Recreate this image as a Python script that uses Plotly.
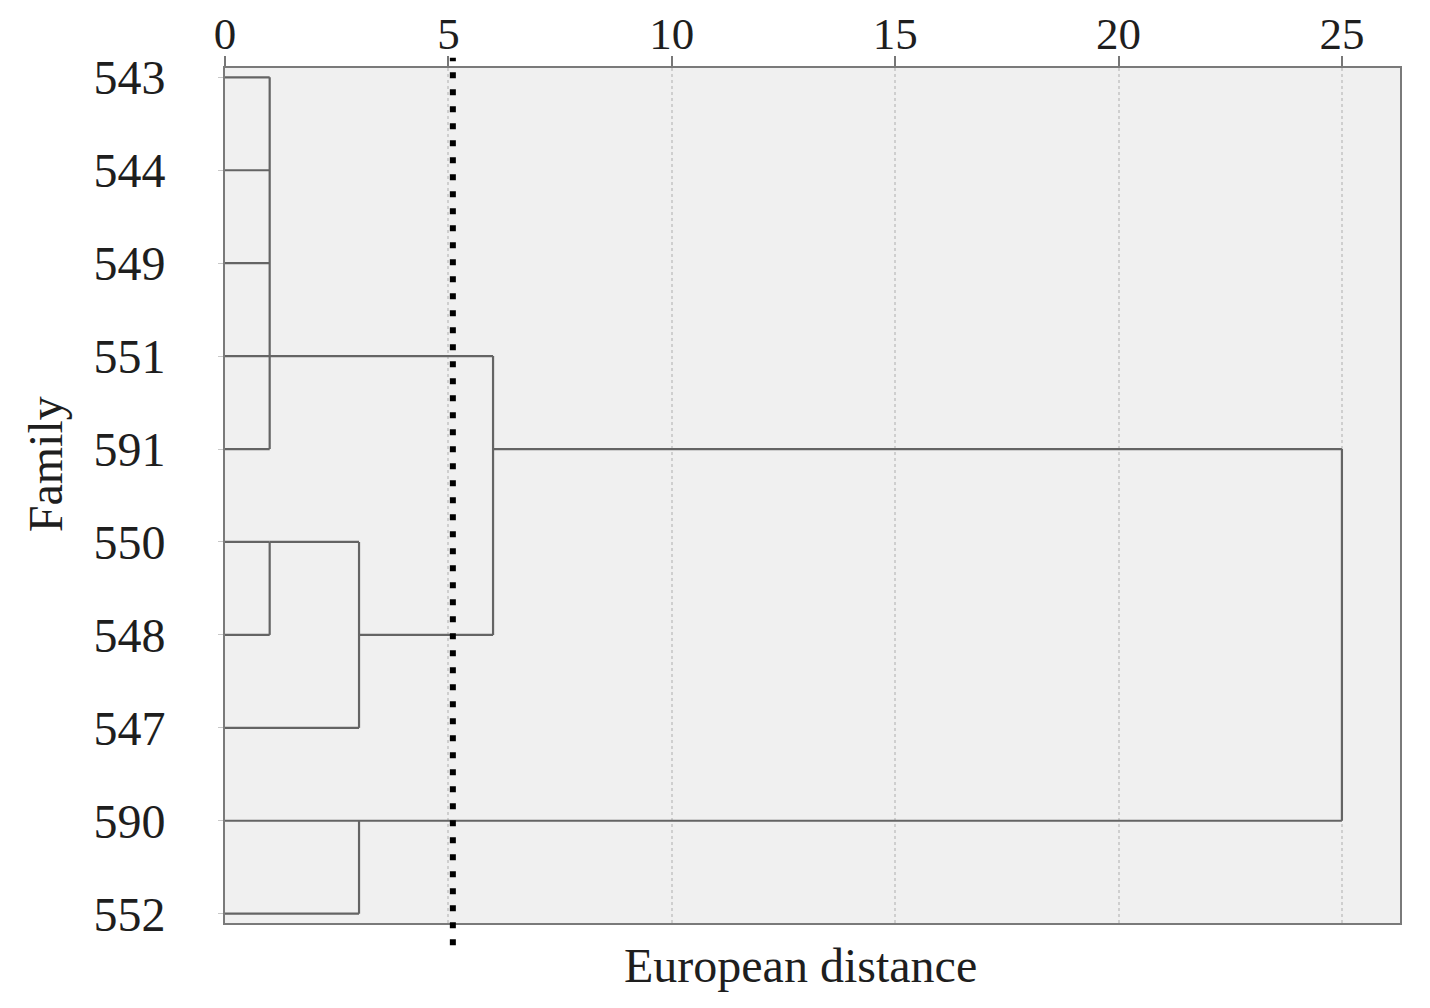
import plotly.graph_objects as go

# leaf families, top to bottom
families = ["543", "544", "549", "551", "591", "550", "548", "547", "590", "552"]

# agglomeration steps (rows are leaf positions in the list above)
merge_members = [[0, 1, 2, 3, 4], [5, 6], [5, 7], [3, 6], [8, 9], [4, 8]]
merge_heights = [1, 1, 3, 6, 3, 25]
merge_rep_row = [3, 5, 6, 4, 8, 4]

cutoff = 5.1
x_ticks = [0, 5, 10, 15, 20, 25]

FONT = "Liberation Serif, Times New Roman, serif"
LINE = "#646464"
TEXT = "#1e1e1e"

# build the dendrogram path
xs, ys = [], []
cur = [0.0] * len(families)
for members, h, rep in zip(merge_members, merge_heights, merge_rep_row):
    for r in members:
        xs += [cur[r], h, None]
        ys += [r, r, None]
    xs += [h, h, None]
    ys += [min(members), max(members), None]
    cur[rep] = h

fig = go.Figure()
fig.add_trace(go.Scatter(
    x=xs, y=ys, mode="lines",
    line=dict(color=LINE, width=2.2),
    hoverinfo="skip", showlegend=False,
))

fig.add_shape(
    type="line", xref="x", yref="paper",
    x0=cutoff, x1=cutoff, y0=-0.026, y1=1.012,
    line=dict(color="black", width=6, dash="6px,11px"),
)

fig.add_annotation(
    text="European distance", xref="paper", yref="paper",
    x=0.490, y=-0.083, showarrow=False,
    font=dict(family=FONT, size=48, color=TEXT),
)
fig.add_annotation(
    text="Family", xref="paper", yref="paper",
    x=-0.177, y=0.536, showarrow=False, textangle=-90,
    font=dict(family=FONT, size=48, color=TEXT),
)

fig.update_layout(
    width=1430, height=1008,
    margin=dict(l=217, r=38, t=60, b=93),
    paper_bgcolor="white",
    plot_bgcolor="#f0f0f0",
    font=dict(family=FONT, size=48, color=TEXT),
    xaxis=dict(
        side="top", range=[0, 26.3], automargin=False,
        tickvals=x_ticks, ticks="outside", ticklen=10, tickwidth=2,
        tickcolor="#777", ticklabelstandoff=-11,
        showgrid=True, gridcolor="#cfcfcf", griddash="dot", gridwidth=1.5,
        zeroline=False,
        showline=True, linecolor="#7a7a7a", linewidth=2, mirror=True,
        tickfont=dict(family=FONT, size=45, color=TEXT),
    ),
    yaxis=dict(
        range=[9.1, -0.1], automargin=False,
        tickvals=list(range(len(families))), ticktext=families,
        ticks="outside", ticklen=5, tickwidth=1, tickcolor="#c8c8c8",
        ticklabelstandoff=43,
        showgrid=False, zeroline=False,
        showline=True, linecolor="#7a7a7a", linewidth=2, mirror=True,
        tickfont=dict(family=FONT, size=48, color=TEXT),
    ),
)

fig.write_html("out.html")
